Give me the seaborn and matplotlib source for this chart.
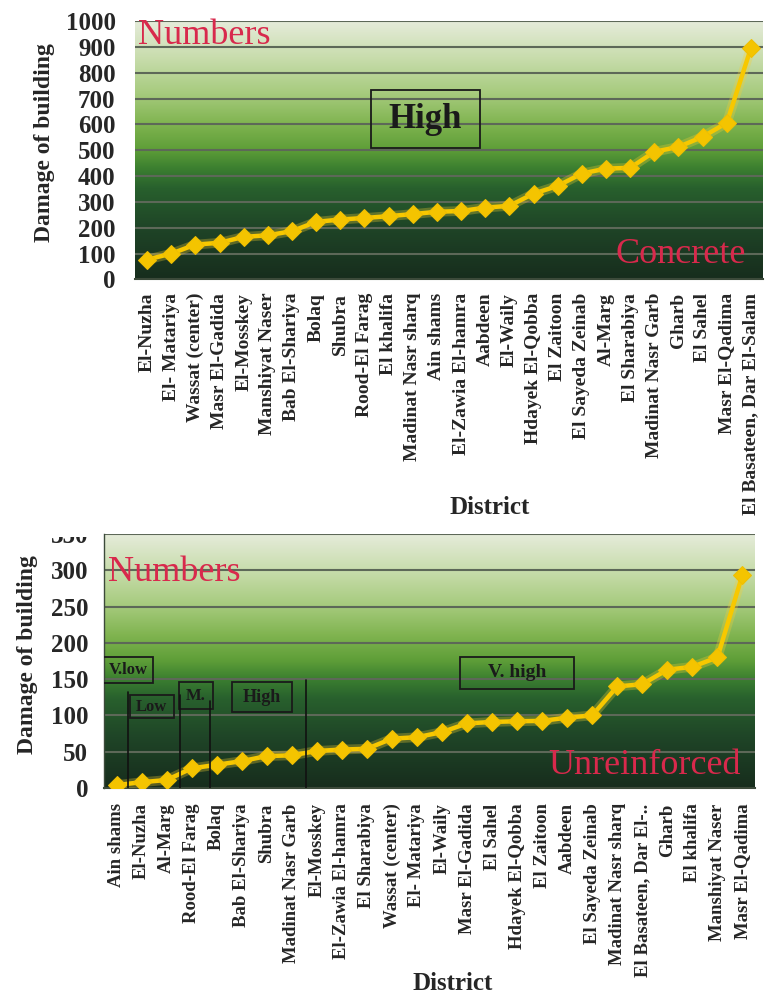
import numpy as np
import pandas as pd
import seaborn as sns
import matplotlib.pyplot as plt
from matplotlib.colors import LinearSegmentedColormap
from matplotlib.patches import Rectangle

# concrete buildings (top panel)
concrete_districts = ["El-Nuzha", "El- Matariya", "Wassat (center)", "Masr El-Gadida", "El-Mosskey",
                      "Manshiyat Naser", "Bab El-Shariya", "Bolaq", "Shubra", "Rood-El Farag",
                      "El khalifa", "Madinat Nasr sharq", "Ain shams", "El-Zawia El-hamra", "Aabdeen",
                      "El-Waily", "Hdayek El-Qobba", "El Zaitoon", "El Sayeda Zeinab", "Al-Marg",
                      "El Sharabiya", "Madinat Nasr Garb", "Gharb", "El Sahel", "Masr El-Qadima",
                      "El Basateen, Dar El-Salam"]
concrete_damage = [77, 100, 135, 142, 165, 171, 187, 223, 232, 238, 245, 253, 262, 265, 278,
                   285, 332, 362, 410, 429, 432, 494, 513, 552, 606, 895]

# unreinforced buildings (bottom panel)
unreinf_districts = ["Ain shams", "El-Nuzha", "Al-Marg", "Rood-El Farag", "Bolaq", "Bab El-Shariya",
                     "Shubra", "Madinat Nasr Garb", "El-Mosskey", "El-Zawia El-hamra", "El Sharabiya",
                     "Wassat (center)", "El- Matariya", "El-Waily", "Masr El-Gadida", "El Sahel",
                     "Hdayek El-Qobba", "El Zaitoon", "Aabdeen", "El Sayeda Zeinab",
                     "Madinat Nasr sharq", "El Basateen, Dar El-..", "Gharb", "El khalifa",
                     "Manshiyat Naser", "Masr El-Qadima"]
unreinf_damage = [4, 8, 11, 27, 32, 37, 44, 45, 51, 53, 54, 68, 70, 77, 89, 91, 92, 92.5, 97, 100,
                  140, 143, 163, 167, 180, 294]

sns.set_theme(style="white")
plt.rcParams['font.family'] = ['Liberation Serif', 'DejaVu Serif']

green = LinearSegmentedColormap.from_list("bg", [
    (0.0, "#172d1d"), (0.2, "#1f4527"), (0.35, "#28602d"), (0.43, "#3c8030"),
    (0.5, "#5e9e38"), (0.6, "#80b450"), (0.72, "#a7cb7e"), (0.86, "#c9ddae"), (1.0, "#e6ecdb")])

W, H = 766, 994
fig = plt.figure(figsize=(W / 100, H / 100), dpi=100)


def px_axes(l, t, r, b):
    return fig.add_axes([l / W, 1 - b / H, (r - l) / W, (b - t) / H])


def panel(ax, names, vals, ymax, step, tick_pad, xtick_pad, xfs):
    ax.imshow(np.linspace(1, 0, 256).reshape(-1, 1), cmap=green, aspect='auto',
              extent=[0, 1, 0, 1], transform=ax.transAxes, zorder=0)
    for yv in np.arange(step, ymax + 1, step):
        ax.axhline(yv, color="#5d6858", lw=1.5, zorder=1)
    df = pd.DataFrame({"District": names, "Damage": vals})
    sns.lineplot(data=df, x="District", y="Damage", sort=False, color="#f8d030",
                 lw=7, alpha=0.3, ax=ax, zorder=3)
    sns.lineplot(data=df, x="District", y="Damage", sort=False, color="#f7c800",
                 lw=3.2, marker="D", markersize=9, markeredgecolor="#f0bf00",
                 markerfacecolor="#f4c400", ax=ax, zorder=4)
    ax.set_xlim(-0.5, len(names) - 0.5)
    ax.set_ylim(0, ymax)
    ax.set_yticks(np.arange(0, ymax + 1, step))
    ax.set_xlabel("")
    ax.set_ylabel("")
    ax.tick_params(axis='y', length=0, pad=tick_pad, labelsize=18)
    ax.tick_params(axis='x', length=0, pad=xtick_pad, labelsize=xfs, rotation=90)
    for lab in ax.get_xticklabels() + ax.get_yticklabels():
        lab.set_fontweight("bold")
    for s in ["top", "right"]:
        ax.spines[s].set_visible(False)
    ax.spines["bottom"].set_color("#3c4a3a")
    ax.spines["bottom"].set_linewidth(1.5)
    ax.spines["left"].set_color("#3c4a3a")
    ax.spines["left"].set_linewidth(1.0)


def box(ax, x0, x1, y0, y1, text, fs):
    ax.add_patch(Rectangle((x0, y0), x1 - x0, y1 - y0, fill=False, ec="#1a1a1a", lw=1.3, zorder=5))
    ax.text((x0 + x1) / 2, (y0 + y1) / 2, text, ha="center", va="center", fontsize=fs,
            fontweight="bold", color="#1a1a1a", zorder=6)


red = "#d8294c"

# top panel
ax1 = px_axes(135, 21, 763, 279.5)
panel(ax1, concrete_districts, concrete_damage, 1000, 100, 14, 9.5, 14)
ax1.spines["left"].set_visible(False)
box(ax1, 9.25, 13.78, 508, 732, "High", 25)
ax1.text(0.005, 0.945, "Numbers", transform=ax1.transAxes, ha="left", va="center",
         fontsize=26, color=red, zorder=6)
ax1.text(0.972, 0.095, "Concrete", transform=ax1.transAxes, ha="right", va="center",
         fontsize=26, color=red, zorder=6)
fig.text(45 / W, 1 - 143 / H, "Damage of building", rotation=90, ha="center", va="center",
         fontsize=17, fontweight="bold")
fig.text(490 / W, 1 - 508 / H, "District", ha="center", va="center", fontsize=18, fontweight="bold")

# bottom panel
ax2 = px_axes(104, 534, 755, 788)
panel(ax2, unreinf_districts, unreinf_damage, 350, 50, 11.5, 11, 13.5)
box(ax2, -0.52, 1.45, 145, 181, "V.low", 12)
box(ax2, 0.53, 2.29, 96.5, 128, "Low", 12)
box(ax2, 2.51, 3.84, 108.4, 145.6, "M.", 12)
box(ax2, 4.63, 7.0, 104.3, 145.6, "High", 13)
box(ax2, 13.72, 18.26, 137, 181, "V. high", 14)
for xv, top in [(0.44, 132), (2.55, 128), (3.72, 120), (7.56, 149)]:
    ax2.plot([xv, xv], [0, top], color="#111111", lw=1.2, zorder=5)
ax2.text(0.006, 0.85, "Numbers", transform=ax2.transAxes, ha="left", va="center",
         fontsize=26, color=red, zorder=6)
ax2.text(0.978, 0.09, "Unreinforced", transform=ax2.transAxes, ha="right", va="center",
         fontsize=26, color=red, zorder=6)
fig.text(28 / W, 1 - 655 / H, "Damage of building", rotation=90, ha="center", va="center",
         fontsize=17, fontweight="bold")
fig.text(453 / W, 1 - 983 / H, "District", ha="center", va="center", fontsize=18, fontweight="bold")

# the bottom image is cropped at its top edge, cutting the "350" label
fig.patches.append(Rectangle((20 / W, 1 - 537 / H), 82 / W, 20 / H, transform=fig.transFigure,
                             facecolor="white", edgecolor="none", zorder=10))

fig.savefig("out.png", dpi=100)
